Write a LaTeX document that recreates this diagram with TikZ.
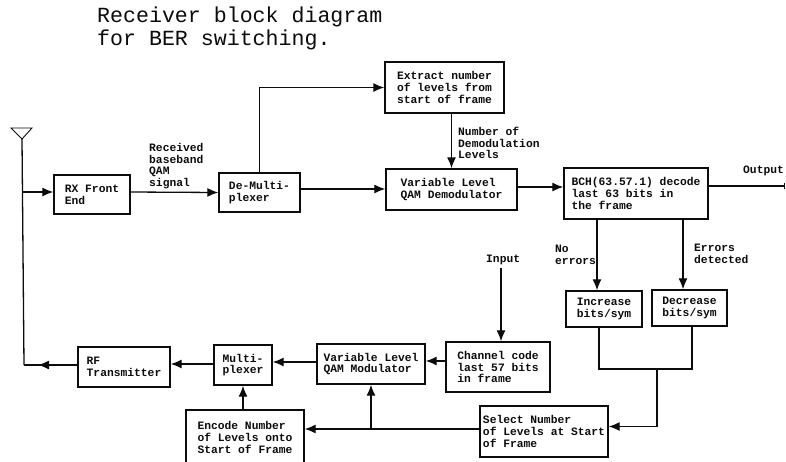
\documentclass[tikz,border=0pt]{standalone}
\usepackage{fontspec}
\usepackage{tikz}
\usetikzlibrary{arrows.meta}
\newfontfamily\titlefont{Liberation Mono}
\newfontfamily\blockfont{Liberation Mono}
\definecolor{ScanInk}{HTML}{0C0C0C}
\definecolor{ScanPaper}{HTML}{FFFFFF}
\begin{document}
\begin{tikzpicture}[x=1pt,y=-1pt,
    blockbox/.style={draw=ScanInk,line width=1.4pt,align=left,text=ScanInk,inner sep=0pt,font=\blockfont\fontsize{11.3}{11.8}\selectfont\bfseries},
    signaltext/.style={text=ScanInk,align=left,anchor=west,inner sep=0pt,font=\blockfont\fontsize{11.3}{11.8}\selectfont\bfseries},
    signal/.style={draw=ScanInk,line width=1.3pt,-{Latex[length=11pt,width=9pt]}},
    feed/.style={draw=ScanInk,line width=1.3pt}]
      \useasboundingbox[fill=ScanPaper] (0,0) rectangle (786,461);
      \node[text=ScanInk,anchor=west,align=left,inner sep=0pt,font=\titlefont\fontsize{21.6}{23}\selectfont] (title) at (97,28)
        {Receiver block diagram\\for BER switching.};
      % receive path
      \node[blockbox,minimum width=76pt,minimum height=39pt] (rxfront) at (92,194.5) {RX Front\\End};
      \node[blockbox,minimum width=81pt,minimum height=39pt] (demux) at (259.5,192.5) {De-Multi-\\plexer};
      \node[blockbox,minimum width=119pt,minimum height=51pt] (extract) at (444.5,87.5) {Extract number\\of levels from\\start of frame};
      \node[blockbox,minimum width=131pt,minimum height=41pt] (demod) at (451.5,189.5) {Variable Level\\QAM Demodulator};
      \node[blockbox,minimum width=144pt,minimum height=51pt] (bch) at (636,193.5) {BCH(63.57.1) decode\\last 63 bits in\\the frame};
      \node[blockbox,minimum width=76pt,minimum height=36pt] (increase) at (604,309) {Increase\\bits/sym};
      \node[blockbox,minimum width=75pt,minimum height=36pt] (decrease) at (689.5,308) {Decrease\\bits/sym};
      % transmit path
      \node[blockbox,minimum width=104pt,minimum height=50pt] (chcode) at (498,367) {Channel code\\last 57 bits\\in frame};
      \node[blockbox,minimum width=108pt,minimum height=40pt] (qammod) at (371,364) {Variable Level\\QAM Modulator};
      \node[blockbox,minimum width=58pt,minimum height=40pt] (muxer) at (243,365) {Multi-\\plexer};
      \node[blockbox,minimum width=92pt,minimum height=40pt] (rftx) at (124,367) {RF\\Transmitter};
      \node[blockbox,minimum width=118pt,minimum height=55pt] (encode) at (245,437.5) {Encode Number\\of Levels onto\\Start of Frame};
      \node[blockbox,minimum width=128pt,minimum height=51pt] (select) at (544,431.5) {Select Number\\of Levels at Start\\of Frame};
      % labels
      \node[signaltext] (rxlabel) at (149,166) {Received\\baseband\\QAM\\signal};
      \node[signaltext] (levelslabel) at (458,143) {Number of\\Demodulation\\Levels};
      \node[signaltext] (outputlabel) at (743,171) {Output};
      \node[signaltext] (noerrlabel) at (555,255) {No\\errors};
      \node[signaltext] (errlabel) at (694,254) {Errors\\detected};
      \node[signaltext] (inputlabel) at (486,260) {Input};
      % antenna
      \coordinate (antfoot) at (22,139);
      \coordinate (antcorner) at (24,365);
      \draw[feed,line width=0.9pt] (11,128) -- (32,128) -- (antfoot) -- cycle;
      \draw[feed] (antfoot) -- (antcorner);
      \draw[signal] (antfoot |- rxfront.west) ++(1,-2.5) -- ([yshift=2.5pt]rxfront.west);
      \coordinate (txtip) at (38,365);
      \draw[feed] ([yshift=2pt]rftx.west) -- (antcorner);
      \draw[signal] ([yshift=2pt]rftx.west) -- (txtip);
      % connectors
      \draw[signal] ([yshift=2.5pt]rxfront.east) -- (demux.west);
      \draw[signal] (demux.north) |- (extract.west);
      \draw[signal] ([yshift=3.5pt]demux.east) -- ([yshift=0.5pt]demod.west);
      \draw[signal] (extract.south -| demod.north) -- (demod.north);
      \draw[signal] ([yshift=2.5pt]demod.east) -- ([yshift=6.5pt]bch.west);
      \coordinate (outputend) at (785,186);
      \draw[feed,-{Bar[width=6pt]}] (bch.east |- outputend) -- (outputend);
      \draw[signal] ([xshift=-39pt]bch.south) -- ([xshift=-7pt]increase.north);
      \draw[signal] ([xshift=47pt]bch.south) -- ([xshift=-6.5pt]decrease.north);
      \coordinate (mergejoin) at (657,369);
      \draw[feed] ([xshift=-5pt]increase.south) |- (mergejoin) -| ([xshift=2.5pt]decrease.south);
      \draw[signal] (mergejoin) |- ([yshift=5pt]select.east);
      \draw[signal] ([yshift=2.5pt]select.west) -- ([yshift=8.5pt]encode.east);
      \coordinate (modtap) at (371,429);
      \draw[signal] (modtap) -- (qammod.south);
      \draw[signal] (encode.north -| muxer.south) -- (muxer.south);
      \draw[signal] (inputlabel.south -| chcode.north) ++(3,3) -- ([xshift=3pt]chcode.north);
      \draw[signal] ([yshift=6pt]chcode.west) -- ([yshift=3pt]qammod.east);
      \draw[signal] ([yshift=2pt]qammod.west) -- ([yshift=3pt]muxer.east);
      \draw[signal] ([yshift=1pt]muxer.west) -- ([yshift=3pt]rftx.east);
    \end{tikzpicture}
\end{document}
